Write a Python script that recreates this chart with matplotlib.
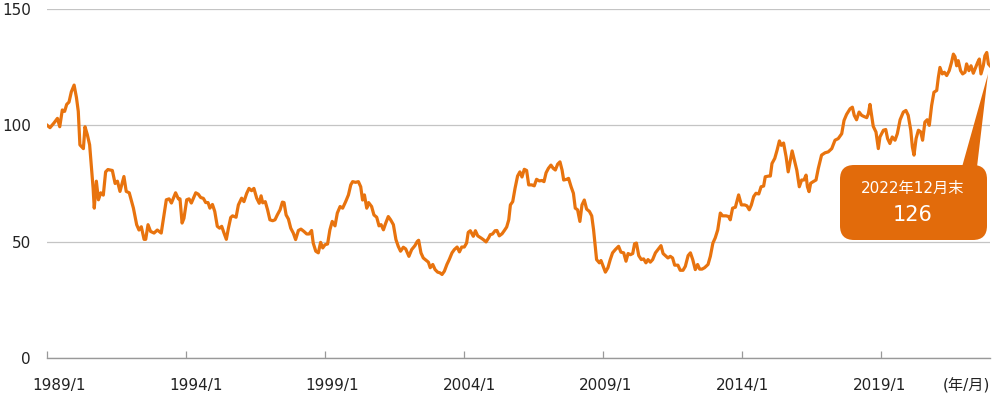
import matplotlib
matplotlib.use("Agg")
import matplotlib.pyplot as plt
from matplotlib.patches import FancyBboxPatch, Polygon
import matplotlib.transforms as mtransforms

# ---- data (months since 1989/1, index value) ----
month_offset = [
    0.1, 1.3, 3.0, 4.5, 5.5, 6.6, 7.6, 8.5, 9.5, 10.5, 11.7, 12.7, 13.5, 14.2, 15.7, 16.4, 17.4, 18.4, 19.1, 19.9,
    20.4, 21.3, 22.2, 23.2, 24.3, 25.3, 26.3, 28.2, 29.4, 30.4, 31.5, 33.2, 34.2, 35.5, 37.3, 38.7, 39.7, 40.7, 41.9, 42.6,
    43.6, 44.7, 46.2, 47.6, 49.3, 50.5, 51.5, 52.7, 53.7, 55.5, 56.7, 57.4, 58.3, 59.1, 60.3, 61.3, 62.3, 64.2, 65.3, 66.3,
    67.5, 68.5, 69.5, 70.3, 71.4, 72.4, 73.5, 74.5, 75.4, 76.4, 77.4, 78.3, 79.3,
    80.1, 81.6, 82.6, 84.0, 85.0, 86.2, 87.2, 88.3, 89.3, 90.5, 91.6, 92.4, 93.1, 94.2, 95.2, 96.2, 97.4, 98.4, 99.4, 100.6,
    101.6, 102.3, 103.2, 104.2, 105.2, 106.3, 107.3, 108.5, 109.6, 110.9, 112.1, 113.1, 114.2, 114.9, 116.0, 117.1, 118.1, 119.0, 120.0, 121.1,
    122.1, 123.1, 124.3, 125.3, 126.5, 127.6, 128.9, 130.1, 131.1, 131.9, 133.2, 134.4, 135.4, 136.2, 137.0, 138.0, 138.8, 140.1, 141.1, 142.3,
    143.3, 144.2, 145.2, 146.2, 147.3, 148.3, 149.5, 150.6, 151.6, 152.6, 153.8, 154.8, 156.2, 157.4, 158.8, 159.8,
    160.4, 161.4, 162.4, 163.6, 164.6, 165.4, 166.5, 167.5, 168.6, 169.6, 170.5, 171.5, 172.6, 173.6, 174.8, 175.8, 177.0, 178.0, 179.0, 180.1,
    181.1, 181.8, 182.7, 184.0, 184.9, 185.9, 187.3, 188.3, 189.5, 190.6, 191.3, 192.3, 193.4, 194.2, 195.2, 196.4, 197.4, 198.4, 199.3, 200.0,
    201.0, 202.0, 203.1, 204.1, 205.0, 206.0, 207.0, 207.9, 209.2, 210.3, 211.3, 212.5, 213.6, 214.5, 215.4, 216.4, 217.5, 218.5, 219.4, 220.4,
    221.4, 222.3, 223.0, 224.3, 225.1, 226.2, 227.2, 228.0, 229.0, 230.0, 230.9, 231.9, 232.9, 234.1, 235.1, 235.9, 236.5, 237.2, 238.4, 239.1,
    240.3, 241.0, 242.1, 243.1, 244.1, 245.3, 246.7, 247.7, 248.9, 249.9, 250.8, 251.8, 252.8, 253.6, 254.4, 255.4, 256.5, 257.5, 258.5, 259.4,
    260.4, 261.4, 262.6, 263.7, 265.0, 265.9, 266.9, 268.0, 269.0, 270.0, 270.9, 272.3, 273.3, 274.5, 275.5, 276.7, 277.7, 278.7, 279.8, 280.8,
    281.7, 282.7, 283.8, 285.3, 286.3, 287.4, 288.4, 289.5, 290.6, 291.6, 293.1, 294.2, 294.9, 295.9, 297.1, 298.5, 299.7, 301.1, 302.1, 303.1,
    304.0, 305.0, 306.0, 307.2, 308.2, 309.3, 310.0, 311.5, 312.2, 312.9, 314.1, 315.1, 316.1, 316.9, 317.9, 319.0, 319.9,
    321.6, 323.6, 324.7, 325.7, 326.7, 327.6, 328.2, 328.9, 329.6, 330.7, 331.9, 332.9, 334.3, 335.8, 337.2, 338.7, 340.1, 341.5, 343.0, 344.0,
    345.1, 346.6, 347.6, 348.4, 349.4, 350.5, 351.6, 352.6, 353.8, 354.5, 355.2, 355.9, 356.6, 357.8, 358.8, 359.5, 361.0, 362.0, 362.8, 363.8,
    364.8, 366.0, 367.0, 368.2, 369.6, 370.7, 371.7, 372.8, 373.5, 374.2, 375.1, 376.1, 377.1, 377.9, 378.9, 379.9, 380.8, 381.8, 382.8, 384.0,
    384.7, 385.4, 386.4, 387.3, 388.3, 389.4, 390.4, 391.2, 391.9, 392.6, 393.3, 394.3, 395.2, 396.2, 396.9, 397.9, 398.8, 399.8, 400.8, 401.7,
    402.4, 403.1, 404.1, 404.8, 405.6, 406.3, 407.0,
]
index_value = [
    100, 99, 101, 103, 99.4, 106.6, 106, 109, 110, 114.4, 117.3, 112, 106, 91.6, 90, 99.4, 96, 91.6, 83, 73,
    64.4, 76, 68, 71, 70, 80, 81, 80.6, 75, 76, 71.6, 78, 71.6, 71, 64.4, 57.3, 55, 56.4, 51, 51,
    57.3, 54.4, 53.7, 55, 53.7, 61.6, 68, 68.4, 66.6, 71, 68.4, 68.4, 58, 60, 68, 68.4, 66.6, 71, 70.4, 69,
    68.6, 66.8, 66.8, 64.4, 66, 63, 56.6, 55.8, 56.6, 53.7, 51, 55.8, 60.4,
    61.1, 60.5, 65.8, 68.7, 67.2, 70.8, 72.9, 71.9, 72.9, 68.7, 66.5, 69.7, 66.7, 67.2, 63.7, 59.4, 59.0, 59.4, 61.5, 63.7,
    67.0, 66.8, 61.5, 59.7, 55.8, 53.7, 50.9, 54.8, 55.4, 54.4, 53.3, 53.3, 54.8, 49.4, 45.9, 45.2, 49.7, 47.3, 48.7, 49.0,
    55.1, 58.7, 56.8, 62.3, 65.1, 64.4, 67.2, 70.1, 74.4, 75.8, 75.5, 75.8, 73.6, 67.9, 70.1, 64.4, 66.8, 65.1, 61.5, 60.5,
    56.8, 57.3, 55.1, 58.0, 60.8, 59.4, 57.3, 50.9, 48.0, 45.9, 47.6, 46.9, 43.7, 46.6, 48.3, 50.1,
    50.6, 45.2, 43.0, 42.0, 41.2, 38.8, 40.2, 38.0, 36.9, 36.6, 35.9, 37.3, 40.2, 42.3, 45.2, 46.6, 47.7, 45.6, 47.7, 47.7,
    49.4, 54.0, 54.7, 52.3, 54.7, 52.5, 51.6, 50.9, 49.9, 51.6, 53.0, 53.3, 54.7, 54.8, 52.5, 53.4, 54.8, 56.3, 59.4, 65.8,
    67.2, 72.9, 78.2, 80.0, 77.8, 81.1, 80.6, 74.4, 74.4, 74.0, 76.8, 76.1, 76.3, 75.8, 79.6, 81.5, 82.9, 81.5, 80.8, 83.3,
    84.3, 80.8, 76.5, 76.8, 77.2, 73.6, 70.8, 64.4, 63.7, 58.7, 65.8, 67.9, 64.0, 63.0, 61.1, 55.1, 49.4, 42.3, 40.9, 41.9,
    38.8, 36.9, 38.8, 42.3, 45.2, 46.6, 48.0, 45.5, 45.2, 41.6, 44.9, 44.4, 44.9, 49.1, 49.4, 44.0, 42.3, 42.6, 40.9, 42.3,
    41.2, 42.3, 45.2, 46.6, 48.3, 44.9, 44.0, 43.0, 43.7, 43.0, 39.9, 39.9, 37.7, 37.7, 39.4, 44.0, 45.2, 42.3, 38.0, 40.2,
    38.2, 38.2, 38.8, 40.2, 43.7, 49.4, 51.6, 55.1, 62.3, 61.1, 61.1, 60.8, 59.4, 64.4, 64.8, 70.1, 65.8, 65.8, 65.4, 63.7,
    65.8, 69.4, 70.8, 70.5, 73.6, 73.9, 77.9, 78.2, 78.2, 83.6, 85.8, 89.3, 93.3, 91.4, 92.4, 86.5, 80.0,
    89.0, 80.8, 73.6, 76.5, 76.5, 78.6, 73.6, 71.5, 75.1, 75.8, 76.5, 81.5, 87.2, 88.2, 88.6, 90.0, 93.6, 94.3, 96.4, 102.1,
    104.7, 107.1, 107.8, 104.3, 102.4, 105.7, 104.3, 103.8, 103.3, 105.0, 109.0, 104.3, 99.6, 97.1, 90.0, 95.0, 97.9, 98.2, 94.3, 92.2,
    95.0, 93.6, 96.4, 102.4, 105.7, 106.4, 104.3, 97.9, 90.7, 87.2, 94.3, 97.9, 97.2, 93.6, 101.4, 102.4, 100.0, 108.5, 114.2, 115.0,
    120.6, 124.9, 122.1, 122.8, 121.4, 123.5, 127.1, 130.6, 129.5, 125.6, 127.8, 123.5, 122.1, 122.8, 126.4, 123.5, 125.6, 122.4, 124.9, 127.1,
    128.5, 122.1, 125.6, 129.9, 131.3, 126.4, 125.6,
]
tick_months = [0, 60, 120, 180, 240, 300, 360]
tick_labels = ["1989/1", "1994/1", "1999/1", "2004/1", "2009/1", "2014/1", "2019/1"]
y_ticks = [0, 50, 100, 150]
callout_title = "2022年12月末"
callout_value = "126"
unit_label = "(年/月)"

LINE = "#E8730E"
BOX = "#E26B0B"
FONT = ["DejaVu Sans", "Noto Sans CJK JP"]
plt.rcParams["font.family"] = FONT

W, H = 992, 399
fig = plt.figure(figsize=(W / 100, H / 100), dpi=100)
L, R, T, B = 47, 990, 9, 358
ax = fig.add_axes([L / W, (H - B) / H, (R - L) / W, (B - T) / H])

ax.plot(month_offset, index_value, color=LINE, lw=2.3, solid_joinstyle="round", zorder=3)

ax.set_xlim(0, 407)
ax.set_ylim(0, 150)
for s in ["top", "right", "left"]:
    ax.spines[s].set_visible(False)
ax.spines["bottom"].set_color("#999999")
ax.spines["bottom"].set_linewidth(1.0)

PX = 72.0 / 100  # points per pixel
ax.set_yticks(y_ticks)
ax.set_yticklabels([str(v) for v in y_ticks])
ax.tick_params(axis="y", length=0, pad=16 * PX, labelsize=11, labelcolor="#222222")
ax.yaxis.grid(True, color="#C4C4C4", lw=0.9)
ax.set_axisbelow(True)

ax.set_xticks(tick_months)
ax.set_xticklabels(tick_labels)
ax.tick_params(axis="x", direction="in", length=5, width=0.9, color="#999999",
               pad=20 * PX, labelsize=11, labelcolor="#222222")
for i, lab in enumerate(ax.get_xticklabels()):
    dx = (12 - 2.3 * i) / 100.0
    lab.set_transform(lab.get_transform() + mtransforms.ScaledTranslation(dx, 0, fig.dpi_scale_trans))

fig.text(966 / W, 1 - 386 / H, unit_label, ha="center", va="center", fontsize=11, color="#222222", family=FONT)

# callout box
def ax_frac(px, py):
    return ((px - L) / (R - L), (B - py) / (B - T))

bx0, by0 = ax_frac(840, 240)
bx1, by1 = ax_frac(987, 165)
box = FancyBboxPatch((bx0, by0), bx1 - bx0, by1 - by0, transform=ax.transAxes,
                     boxstyle="round,pad=0,rounding_size=0.015", mutation_aspect=(R - L) / (B - T),
                     fc=BOX, ec="none", zorder=5, clip_on=False)
ax.add_patch(box)
tri = Polygon([ax_frac(962, 167), ax_frac(977, 167), ax_frac(988, 74)], closed=True,
              transform=ax.transAxes, fc=BOX, ec="none", zorder=5, clip_on=False)
ax.add_patch(tri)
tx, ty = ax_frac(913, 188)
ax.text(tx, ty, callout_title, transform=ax.transAxes, ha="center", va="center",
        color="white", fontsize=11, zorder=6, family=FONT)
tx, ty = ax_frac(913, 215)
ax.text(tx, ty, callout_value, transform=ax.transAxes, ha="center", va="center",
        color="white", fontsize=15, zorder=6, family=FONT)

fig.savefig("out.png", dpi=100)
